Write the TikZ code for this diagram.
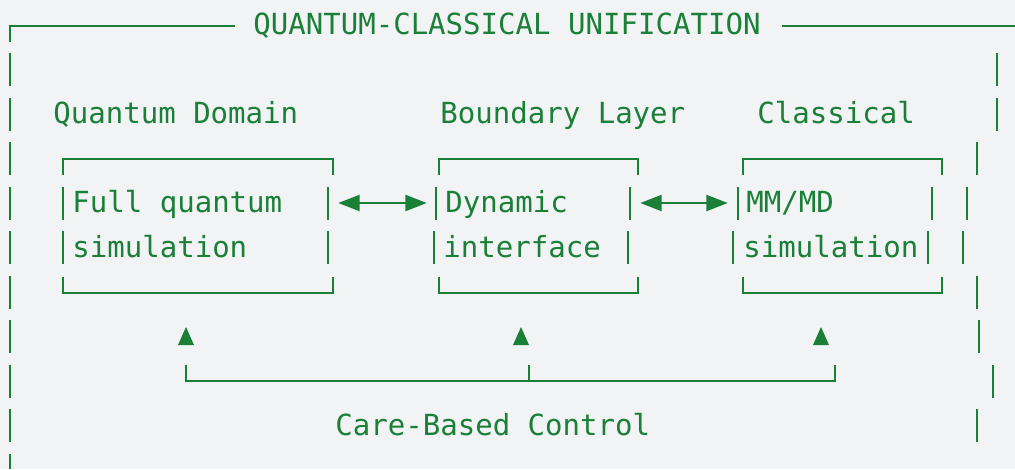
\documentclass[tikz,border=0pt]{standalone}
\usepackage{fontspec}
\setmonofont{DejaVu Sans Mono}
\usepackage{tikz}
\usetikzlibrary{arrows.meta}
\definecolor{qgreen}{HTML}{1A7F37}
\definecolor{qpaper}{HTML}{F1F3F5}
\tikzset{
  >={Triangle[length=16pt,width=12pt]},
  qrule/.style={qgreen, line width=1.5pt},
  qframe/.style={qgreen, line width=1.5pt, dash pattern=on 24.75pt off 8.625pt},
  qtxt/.style={qgreen, font=\ttfamily\fontsize{21.8}{26}\selectfont,
               anchor=base west, inner sep=0pt},
  qsim/.style={draw=none, inner sep=0pt, minimum height=100.5pt},
  qlink/.style={<->, qgreen, line width=1.6pt},
}

\begin{document}
\begin{tikzpicture}[x=0.75pt,y=-0.75pt]

  % fundo
  \fill[qpaper] (0,0) rectangle (1015,469);
  \useasboundingbox (0,0) rectangle (1015,469);

  % moldura externa
  \node[qtxt] (title) at (253,34.5) {QUANTUM-CLASSICAL UNIFICATION};
  \draw[qrule] (10,41.5) -- (10,26) -- (235,26);
  \draw[qrule] (782,26) -- (1015,26);
  \draw[qframe] (10,53) -- (10,469);
  \foreach \x/\y in {997/53, 997/97.5, 977/142, 967/186.5, 963/231,
                     977/275.5, 979/320, 993/364.5, 977/409}
    \draw[qrule] (\x,\y) -- ++(0,33);

  % rotulos das camadas
  \node[qtxt] (quant-lbl) at (53,123.5) {Quantum Domain};
  \node[qtxt] (bound-lbl) at (440,123.5) {Boundary Layer};
  \node[qtxt] (class-lbl) at (757,123.5) {Classical};

  % caixas
  \node[qsim, minimum width=202.5pt] (quant) at (198,226) {};
  \node[qsim, minimum width=149.25pt] (bound) at (538.5,226) {};
  \node[qsim, minimum width=149.25pt] (class) at (842.5,226) {};
  \foreach \b in {quant,bound,class}{
    \draw[qrule] ([yshift=-12pt]\b.north west) -- (\b.north west)
      -- (\b.north east) -- ([yshift=-12pt]\b.north east);
    \draw[qrule] ([yshift=12pt]\b.south west) -- (\b.south west)
      -- (\b.south east) -- ([yshift=12pt]\b.south east);
  }
  \foreach \l/\ll/\r/\rr in {63/63/328/328, 436/434/630/628, 738/733/932/928}
    \draw[qrule] (\l,186.5) -- (\l,219.5) (\ll,231) -- (\ll,264)
                 (\r,186.5) -- (\r,219.5) (\rr,231) -- (\rr,264);

  \node[qtxt] (quant-1) at (72,212.5) {Full quantum};
  \node[qtxt] (quant-2) at (72,257) {simulation};
  \node[qtxt] (bound-1) at (445,212.5) {Dynamic};
  \node[qtxt] (bound-2) at (443,257) {interface};
  \node[qtxt] (class-1) at (746,212.5) {MM/MD};
  \node[qtxt] (class-2) at (743,257) {simulation};

  % acoplamentos
  \draw[qlink, shorten <=3.75pt, shorten >=9pt]
    ([yshift=17.25pt]quant.east) -- ([yshift=17.25pt]bound.west);
  \draw[qlink, shorten <=1.5pt, shorten >=11.25pt]
    ([yshift=17.25pt]bound.east) -- ([yshift=17.25pt]class.west);

  % controle
  \foreach \x in {186,521,821}
    \fill[qgreen] (\x-8,345) -- (\x,327) -- (\x+8,345) -- cycle;
  \draw[qrule] (186,364.5) -- (186,381) -- (835,381) -- (835,364.5);
  \draw[qrule] (529,364.5) -- (529,381);
  \node[qtxt] (ctl) at (335,435) {Care-Based Control};

\end{tikzpicture}
\end{document}
